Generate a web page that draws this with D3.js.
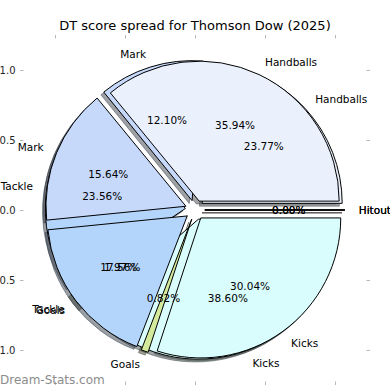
<!DOCTYPE html>
<html>
<head>
<meta charset="utf-8">
<script src="https://cdn.jsdelivr.net/npm/d3@7"></script>
<style>
  body { margin: 0; background: #fff; }
  text { font-family: "DejaVu Sans", sans-serif; }
</style>
</head>
<body>
<div id="chart"></div>
<script>
// two pies drawn on the same axes, the second one on top
const categories = ["Handballs", "Mark", "Tackle", "Goals", "Kicks", "Hitout"];
const colours = ["#eaf1fd", "#c6d9fb", "#b4d5fb", "#d3ea9c", "#d9fdfd", "#f4d4e4"];
const backPie = [23.77, 12.10, 23.56, 1.97, 38.60, 0.00];
const frontPie = [35.94, 15.64, 17.56, 0.82, 30.04, 0.00];
const tickValues = [-1, -0.5, 0, 0.5, 1];
const title = "DT score spread for Thomson Dow (2025)";

const explode = 0.07;
const shadowOff = 0.02;

const width = 390, height = 390;

const svg = d3.select("#chart")
  .append("svg")
  .attr("width", width)
  .attr("height", height);

const x = d3.scaleLinear().domain([-1.25, 1.25]).range([20, 370]);
const y = d3.scaleLinear().domain([-1.25, 1.25]).range([385, 35]);
const r = x(1) - x(0);

// counter-clockwise from 3 o'clock like matplotlib
const pie = d3.pie().sort(null)
  .startAngle(Math.PI / 2)
  .endAngle(Math.PI / 2 - 2 * Math.PI);
const arc = d3.arc().innerRadius(0).outerRadius(r);

function layout(values) {
  return pie(values).map((d, i) => {
    const m = (d.startAngle + d.endAngle) / 2;
    return Object.assign(d, {
      cat: categories[i],
      color: colours[i],
      sx: Math.sin(m),
      sy: Math.cos(m)
    });
  });
}

const pies = [layout(backPie), layout(frontPie)];

// axes ticks (no spines)
const tickCol = "#b8b8b8";
function styleAxis(g) {
  g.select(".domain").remove();
  g.selectAll(".tick line").attr("stroke", tickCol);
  g.selectAll(".tick text").attr("fill", "#262626").style("font-size", "10px");
}
const fmt = d3.format(".1f");
svg.append("g")
  .attr("transform", `translate(${x(-1.25)},0)`)
  .call(d3.axisLeft(y).tickValues(tickValues).tickSize(-3.5).tickPadding(4.5).tickFormat(fmt))
  .call(styleAxis);
svg.append("g")
  .attr("transform", `translate(${x(1.25)},0)`)
  .call(d3.axisRight(y).tickValues(tickValues).tickSize(-3.5).tickFormat(""))
  .call(styleAxis);
svg.append("g")
  .attr("transform", `translate(0,${y(1.25)})`)
  .call(d3.axisTop(x).tickValues(tickValues).tickSize(-3.5).tickFormat(""))
  .call(styleAxis);
svg.append("g")
  .attr("transform", `translate(0,${y(-1.25)})`)
  .call(d3.axisBottom(x).tickValues(tickValues).tickSize(-3.5).tickPadding(5.5).tickFormat(fmt))
  .call(styleAxis);

// shadows go under every wedge
const shadows = svg.append("g");
pies.forEach(p => {
  shadows.selectAll(null)
    .data(p)
    .enter()
    .append("path")
    .attr("d", arc)
    .attr("transform", d => `translate(${x(explode * d.sx - shadowOff)},${y(explode * d.sy - shadowOff)})`)
    .attr("fill", d => { const c = d3.rgb(d.color); return d3.rgb(c.r * 0.3, c.g * 0.3, c.b * 0.3); })
    .attr("fill-opacity", 0.5)
    .attr("stroke", d => { const c = d3.rgb(d.color); return d3.rgb(c.r * 0.3, c.g * 0.3, c.b * 0.3); })
    .attr("stroke-opacity", 0.5)
    .attr("stroke-width", 1);
});

const wedges = svg.append("g");
pies.forEach(p => {
  wedges.selectAll(null)
    .data(p)
    .enter()
    .append("path")
    .attr("d", arc)
    .attr("transform", d => `translate(${x(explode * d.sx)},${y(explode * d.sy)})`)
    .attr("fill", d => d.color)
    .attr("stroke", "#000")
    .attr("stroke-width", 1)
    .attr("stroke-linejoin", "miter");
});

const texts = svg.append("g").style("font-size", "10.5px").attr("fill", "#000");
pies.forEach(p => {
  texts.selectAll(null)
    .data(p)
    .enter()
    .append("text")
    .attr("x", d => x((explode + 1.1) * d.sx))
    .attr("y", d => y((explode + 1.1) * d.sy))
    .attr("text-anchor", d => d.sx > 0 ? "start" : "end")
    .attr("dominant-baseline", "central")
    .text(d => d.cat);

  texts.selectAll(null)
    .data(p)
    .enter()
    .append("text")
    .attr("x", d => x((explode + 0.6) * d.sx))
    .attr("y", d => y((explode + 0.6) * d.sy))
    .attr("text-anchor", "middle")
    .attr("dominant-baseline", "central")
    .text(d => d3.format(".2f")(d.value) + "%");
});

svg.append("text")
  .attr("x", width / 2)
  .attr("y", 30)
  .attr("text-anchor", "middle")
  .style("font-size", "13px")
  .text(title);

svg.append("text")
  .attr("x", 0)
  .attr("y", 384)
  .style("font-size", "12px")
  .attr("fill", "#8c8c8c")
  .text("Dream-Stats.com");
</script>
</body>
</html>
